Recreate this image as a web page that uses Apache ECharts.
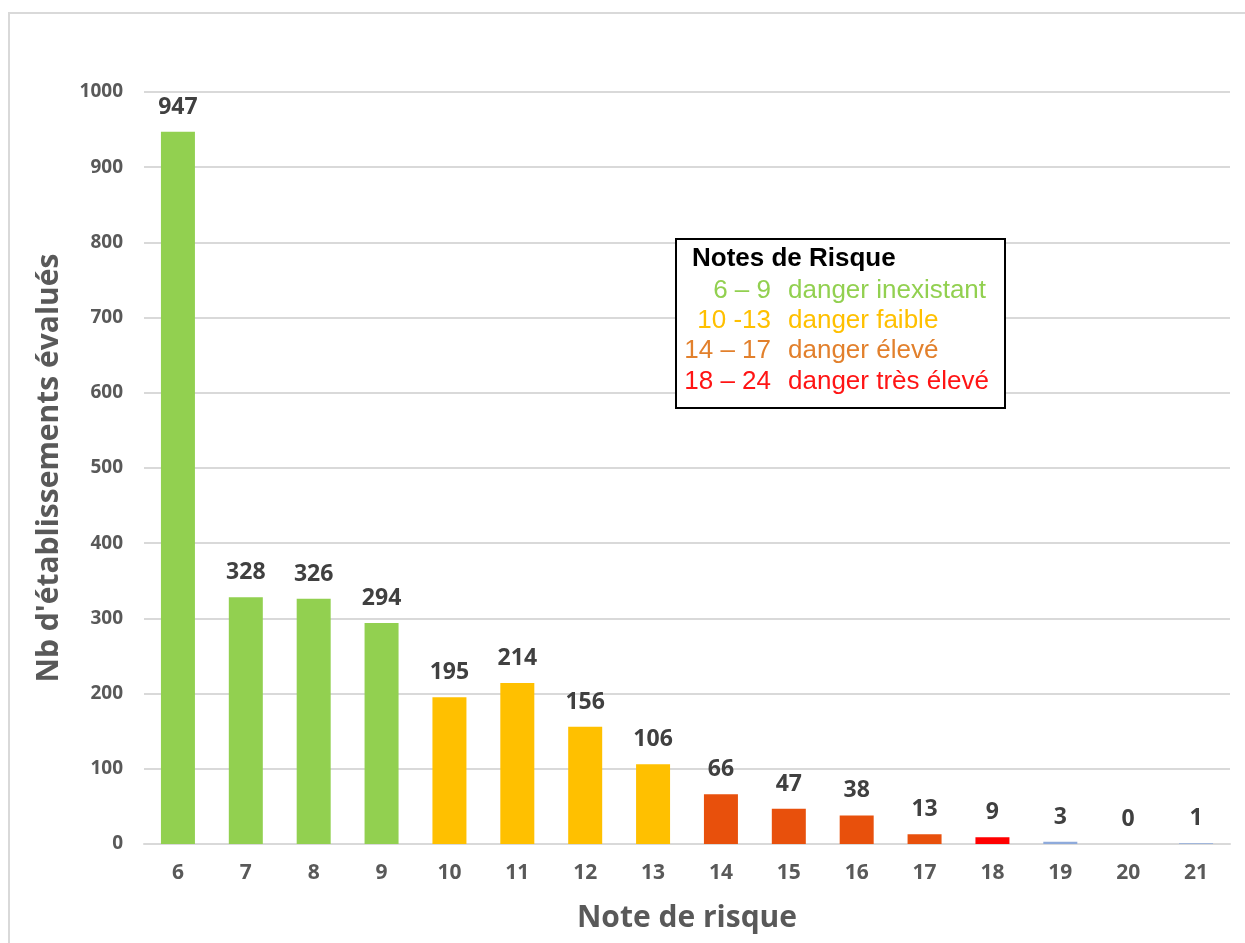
<!DOCTYPE html>
<html>
<head>
<meta charset="utf-8">
<script src="https://cdn.jsdelivr.net/npm/echarts@6/dist/echarts.min.js"></script>
<style>
html,body{margin:0;padding:0;background:#fff;}
#chart{width:1245px;height:943px;}
</style>
</head>
<body>
<div id="chart"></div>
<script>
// ---- data ----
const categories = ['6','7','8','9','10','11','12','13','14','15','16','17','18','19','20','21'];
const counts = [947, 328, 326, 294, 195, 214, 156, 106, 66, 47, 38, 13, 9, 3, 0, 1];
const yTicks = [0, 100, 200, 300, 400, 500, 600, 700, 800, 900, 1000];
const legendTitle = 'Notes de Risque';
const legendRanges = ['6 – 9', '10 -13', '14 – 17', '18 – 24'];
const legendLabels = ['danger inexistant', 'danger faible', 'danger élevé', 'danger très élevé'];

// ---- styles ----
const barColors = ['#92d050','#92d050','#92d050','#92d050',
  '#ffc000','#ffc000','#ffc000','#ffc000',
  '#e8500c','#e8500c','#e8500c','#e8500c',
  '#ff0000','#8eaadb','#8eaadb','#8eaadb'];
const legendColors = ['#92d050', '#ffc000', '#e2802c', '#ff1414'];

const chart = echarts.init(document.getElementById('chart'));

const legendGraphics = [
  { type: 'rect', shape: { x: 676, y: 239, width: 329, height: 169 },
    style: { fill: '#fff', stroke: '#000', lineWidth: 2 }, z: 10 },
  { type: 'text', x: 692, y: 259, z: 11,
    style: { text: legendTitle, fill: '#000', font: 'bold 26px "Liberation Sans", Arial, sans-serif', textVerticalAlign: 'middle' } }
];
const lineY = [291, 321, 351, 382];
legendRanges.forEach((r, i) => {
  legendGraphics.push({ type: 'text', x: 771, y: lineY[i], z: 11,
    style: { text: r, fill: legendColors[i], font: '26px "Liberation Sans", Arial, sans-serif', textAlign: 'right', textVerticalAlign: 'middle' } });
  legendGraphics.push({ type: 'text', x: 788, y: lineY[i], z: 11,
    style: { text: legendLabels[i], fill: legendColors[i], font: '26px "Liberation Sans", Arial, sans-serif', textAlign: 'left', textVerticalAlign: 'middle' } });
});

chart.setOption({
  animation: false,
  backgroundColor: '#fff',
  textStyle: { fontFamily: '"Open Sans", sans-serif' },
  grid: { left: 144, right: 15, top: 92, bottom: 99, containLabel: false },
  graphic: [
    { type: 'rect', shape: { x: 9, y: 13, width: 1300, height: 1000 },
      style: { fill: 'none', stroke: '#d9d9d9', lineWidth: 2 }, z: 0 }
  ].concat(legendGraphics),
  xAxis: {
    type: 'category',
    data: categories,
    name: 'Note de risque',
    nameLocation: 'middle',
    nameGap: 59,
    nameTextStyle: { fontSize: 30, fontWeight: 'bold', color: '#595959' },
    axisLine: { lineStyle: { color: '#d9d9d9', width: 2 } },
    axisTick: { show: false },
    axisLabel: { fontSize: 21, fontWeight: 'bold', color: '#595959', margin: 19 }
  },
  yAxis: {
    type: 'value',
    min: 0, max: 1000, interval: 100,
    name: "Nb d'établissements évalués",
    nameLocation: 'middle',
    nameGap: 80,
    nameTextStyle: { fontSize: 30, fontWeight: 'bold', color: '#595959' },
    axisLine: { show: false },
    axisTick: { show: false },
    splitLine: { lineStyle: { color: '#d9d9d9', width: 2 } },
    axisLabel: { fontSize: 19, fontWeight: 'bold', color: '#595959', margin: 21,
      formatter: v => yTicks.includes(v) ? String(v) : '' }
  },
  series: [{
    type: 'bar',
    barWidth: 34,
    data: counts.map((v, i) => ({ value: v, itemStyle: { color: barColors[i] } })),
    label: { show: true, position: 'top', distance: 13, fontSize: 23, fontWeight: 'bold', color: '#404040' }
  }]
});
</script>
</body>
</html>
